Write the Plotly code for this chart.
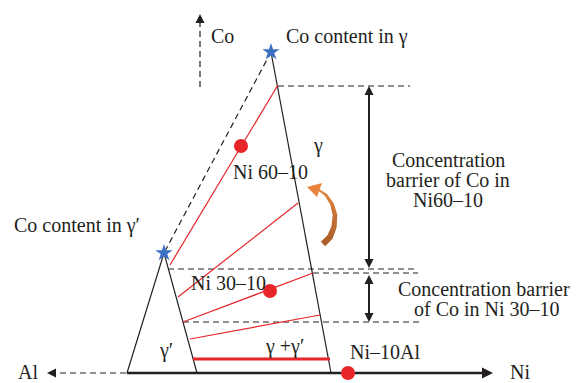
import numpy as np
import plotly.graph_objects as go

W, H = 578, 383
FONT = "'Liberation Serif', 'Times New Roman', serif"
FS = 20
INK = "#231F20"
RED = "#E8262A"
BLUE = "#3D6FC4"

# ---- schematic geometry (drawing units, y grows downward) ----
axis_y = 373
al_dash_x = [50, 127]
ni_axis_x = [127, 486]

gp_left = (127, 373)          # gamma-prime field
gp_apex = (164, 253)
gp_right = (197, 373)

g_top = (271, 52)             # gamma boundary
g_bottom = (331, 373)

# tie lines: gamma-prime side -> gamma side
tie_start_x = [170, 178, 183, 190]
tie_start_y = [265, 297, 322, 339]
tie_end_x = [278, 298, 313, 320]
tie_end_y = [85, 203, 273, 315]
base_tie_x = [193, 330]
base_tie_y = 359

alloy_names = ["Ni 60–10", "Ni 30–10", "Ni–10Al"]
alloy_x = [241, 270, 348]
alloy_y = [146, 291, 373]

# horizontal guide levels
guides = [
    ([278, 410], 86),
    ([168, 418], 269),
    ([313, 418], 273),
    ([183, 420], 322),
]
barrier_x = 369
barrier_60 = (86, 268)
barrier_30 = (275, 322)

co_arrow_x = 200
co_arrow_y = (87, 14)

# rotating arrow: centreline and half widths
swirl_x = [319, 326, 332, 335, 334, 330, 323]
swirl_y = [190, 195, 204, 215, 227, 237, 244]
swirl_hw = [1.0, 1.4, 1.9, 2.3, 2.7, 3.0, 3.1]
swirl_head_x = [307, 322, 317]
swirl_head_y = [187, 183, 197]

fig = go.Figure()


def line(xs, ys, color=INK, width=1.2, dash=None):
    fig.add_trace(go.Scatter(
        x=list(xs), y=list(ys), mode="lines", hoverinfo="skip",
        line=dict(color=color, width=width, dash=dash), cliponaxis=False))


DASH = "6px,4px"

# horizontal composition axis
line(al_dash_x, [axis_y, axis_y], dash=DASH)
line(ni_axis_x, [axis_y, axis_y], width=2.6)

# gamma-prime triangle
line([gp_left[0], gp_apex[0], gp_right[0]], [gp_left[1], gp_apex[1], gp_right[1]])
# gamma boundary
line([g_top[0], g_bottom[0]], [g_top[1], g_bottom[1]])
# dashed connection between Co contents
line([g_top[0], gp_apex[0]], [g_top[1], gp_apex[1]], dash=DASH)

# Co direction
line([co_arrow_x, co_arrow_x], [co_arrow_y[0], co_arrow_y[1] + 4], dash=DASH)

# guides
for gx, gy in guides:
    line(gx, [gy, gy], dash=DASH)

# tie lines
for x0, y0, x1, y1 in zip(tie_start_x, tie_start_y, tie_end_x, tie_end_y):
    line([x0, x1], [y0, y1], color=RED, width=1.2)
line(base_tie_x, [base_tie_y, base_tie_y], color=RED, width=3)

# vertical barrier arrows
line([barrier_x, barrier_x], [barrier_60[0] + 6, barrier_60[1] - 6], width=2)
line([barrier_x, barrier_x], [barrier_30[0] + 6, barrier_30[1] - 6], width=2)

# rotating arrow body
sx = np.array(swirl_x, float)
sy = np.array(swirl_y, float)
dx = np.gradient(sx)
dy = np.gradient(sy)
nrm = np.hypot(dx, dy)
nx, ny = -dy / nrm, dx / nrm
hw = np.array(swirl_hw)
px = np.concatenate([sx + nx * hw, (sx - nx * hw)[::-1]])
py = np.concatenate([sy + ny * hw, (sy - ny * hw)[::-1]])
grad = dict(type="vertical", start=183, stop=248,
            colorscale=[[0, "#EA8A45"], [1, "#A65A26"]])
fig.add_trace(go.Scatter(
    x=list(px) + [px[0]], y=list(py) + [py[0]], mode="lines", fill="toself",
    fillgradient=grad, line=dict(width=0), hoverinfo="skip"))
fig.add_trace(go.Scatter(
    x=swirl_head_x + [swirl_head_x[0]], y=swirl_head_y + [swirl_head_y[0]],
    mode="lines", fill="toself", fillcolor="#E8843E", line=dict(width=0),
    hoverinfo="skip"))

# alloy points
fig.add_trace(go.Scatter(
    x=alloy_x, y=alloy_y, mode="markers", hoverinfo="skip", cliponaxis=False,
    marker=dict(color=RED, size=14, line=dict(width=0))))

# Co contents (stars)
fig.add_trace(go.Scatter(
    x=[g_top[0], gp_apex[0]], y=[g_top[1], gp_apex[1]], mode="markers",
    hoverinfo="skip", cliponaxis=False,
    marker=dict(symbol="star", color=BLUE, size=13, line=dict(width=0))))

annotations = []


def head(x, y, fx, fy, width=1.5, size=1.2):
    annotations.append(dict(
        x=x, y=y, ax=fx, ay=fy, xref="x", yref="y", axref="x", ayref="y",
        text="", showarrow=True, arrowhead=2, arrowsize=size,
        arrowwidth=width, arrowcolor=INK, standoff=0, startstandoff=0))


head(co_arrow_x, co_arrow_y[1], co_arrow_x, co_arrow_y[1] + 8)
head(47, axis_y, 56, axis_y)
head(493, axis_y, 482, axis_y, width=2, size=1.1)
head(barrier_x, barrier_60[0], barrier_x, barrier_60[0] + 9)
head(barrier_x, barrier_60[1], barrier_x, barrier_60[1] - 9)
head(barrier_x, barrier_30[0], barrier_x, barrier_30[0] + 9)
head(barrier_x, barrier_30[1], barrier_x, barrier_30[1] - 9)


def label(text, x, y, anchor="center", size=FS):
    annotations.append(dict(
        x=x, y=y, xref="x", yref="y", text=text, showarrow=False,
        xanchor=anchor, yanchor="middle",
        font=dict(family=FONT, size=size, color=INK)))


label("Co", 209, 36, "left")
label("Co content in γ", 284, 36, "left")
label("Co content in γ′", 12, 225, "left")
label("γ", 318, 145)
label(alloy_names[0], 231, 172, "left")
label("Concentration", 448, 160)
label("barrier of Co in", 448, 180)
label("Ni60–10", 448, 200)
label(alloy_names[1], 189, 283, "left")
label("Concentration barrier", 484, 289)
label("of Co in Ni 30–10", 487, 309)
label("γ′", 166, 350)
label("γ +γ′", 284, 346)
label(alloy_names[2], 385, 352)
label("Al", 28, 372)
label("Ni", 520, 372)

# composition tick label below the axis
fig.add_trace(go.Scatter(
    x=[191], y=[388], mode="text", text=["75"], cliponaxis=False,
    textfont=dict(family=FONT, size=FS, color=INK), hoverinfo="skip"))

fig.update_layout(
    width=W, height=H, margin=dict(l=0, r=0, t=0, b=0),
    paper_bgcolor="white", plot_bgcolor="white", showlegend=False,
    annotations=annotations,
    xaxis=dict(range=[0, W], visible=False, fixedrange=True),
    yaxis=dict(range=[H, 0], visible=False, fixedrange=True),
)

fig.write_html("out.html")
